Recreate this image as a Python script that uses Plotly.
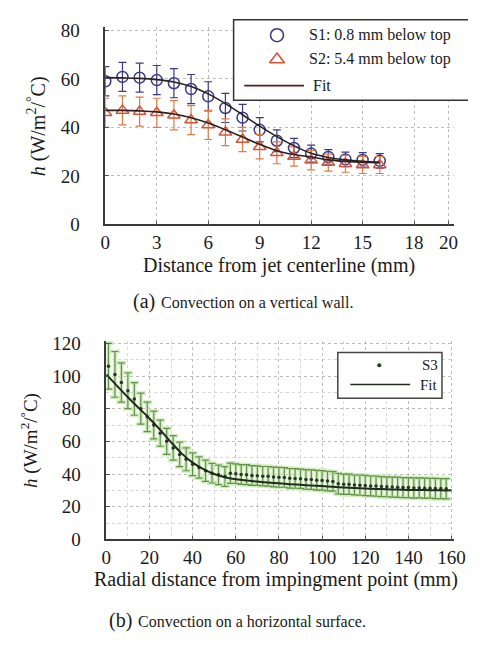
import plotly.graph_objects as go

# ---------------- (a) vertical wall ----------------
wall_x = [0, 1, 2, 3, 4, 5, 6, 7, 8, 9, 10, 11, 12, 13, 14, 15, 16]
s1_h = [59, 60.8, 60.5, 59.5, 58.2, 55.8, 52.8, 48, 44, 39, 34.5, 31.5, 29.2, 27.8, 26.8, 26.6, 26.2]
s1_err = [6, 6, 6, 6, 6, 6, 6, 6, 5.5, 5, 4.5, 4, 3.5, 3, 3, 3, 3]
s2_h = [46, 47, 46.5, 46, 45, 43, 41, 38, 35, 32, 29.5, 28, 26.5, 25.5, 25, 24.5, 24.5]
s2_err = [6, 6, 6, 6, 6, 6, 6, 5.5, 5, 5, 4.5, 4, 4, 3.5, 3.5, 3.5, 3.5]
fit1_h = [60.5, 60.4, 60.2, 59.7, 58.7, 56.8, 53.8, 49.8, 45.2, 40.5, 36.2, 32.4, 29.3, 27.6, 26.6, 26.0, 25.6]
fit2_h = [47, 47, 46.8, 46.4, 45.5, 44, 41.8, 39, 36, 33, 30.4, 28.8, 27.8, 26.6, 26.0, 25.6, 25.4]
wall_ticks = [0, 3, 6, 9, 12, 15, 18, 20]

# ---------------- (b) horizontal surface ----------------
s3_x1 = [1, 4, 7, 10, 13, 16, 19, 22, 25, 28, 31, 34, 37, 40, 43, 46, 49, 52, 55]
s3_h1 = [106, 101, 96, 91, 86, 80, 75, 70, 65, 60, 56, 52, 49, 46, 44, 42, 40.5, 39.5, 38.5]
s3_e1 = [14, 14, 12, 11, 10, 9.5, 9, 8.5, 8, 8, 7.5, 7.5, 7, 7, 6.5, 6.5, 6, 6, 6]
s3_x2 = [57.5, 60, 62.5, 65, 67.5, 70, 72.5, 75, 77.5, 80, 82.5, 85, 87.5, 90,
         92.5, 95, 97.5, 100, 102.5, 105, 107.5, 110, 112.5, 115, 117.5, 120,
         122.5, 125, 127.5, 130, 132.5, 135, 137.5, 140, 142.5, 145, 147.5, 150,
         152.5, 155, 157.5]
s3_h2 = [40.5, 40.2, 39.7, 39.6, 39.1, 39, 38.7, 38.6, 38.2, 38, 37.9, 37.4, 37.3, 37.1,
         36.7, 36.6, 36.2, 36.1, 35.7, 35.5, 34.1, 33.7, 33.7, 33.3, 33.2, 33.0,
         32.7, 32.6, 32.3, 32.2, 32.0, 31.9, 31.7, 31.7, 31.5, 31.5, 31.3, 31.3,
         31.1, 31.1, 31.0]
s3_e2 = [6.2, 6, 6, 6.1, 6, 6, 5.9, 6, 6, 6.1, 6, 6, 6, 5.9, 6, 6, 6.1, 6, 6, 6,
         6.3, 6.2, 6.2, 6.1, 6.2, 6.2, 6.1, 6.2, 6.1, 6.1, 6.1, 6.2, 6.1, 6.1,
         6.2, 6.1, 6.2, 6.1, 6.2, 6.1, 6.2]
fit3_x = [0, 5, 10, 15, 20, 25, 30, 35, 40, 45, 50, 55, 60, 65, 70, 75, 80, 85, 90,
          95, 100, 105, 110, 115, 120, 125, 130, 135, 140, 145, 150, 155, 160]
fit3_h = [101, 94, 87, 80.5, 74, 67, 59.5, 52.5, 47, 43, 40, 38, 36.8, 36, 35.4, 34.8,
          34.3, 33.8, 33.4, 33, 32.6, 32.2, 31.8, 31.5, 31.2, 30.9, 30.7, 30.5, 30.3,
          30.2, 30.1, 30, 30]
surf_ticks = [0, 20, 40, 60, 80, 100, 120, 140, 160]

W, H = 480, 645
SERIF = "Liberation Serif"
NAVY = "#3a3a86"
RED = "#d2553a"
ORANGE = "#e07a45"
DARK = "#2b1f1f"
GREEN = "#5f9448"
HALO = "#d3ecbf"


def px(x):
    return x / W


def py(y):
    return 1 - y / H


fig = go.Figure()

# wall data
fig.add_trace(go.Scatter(
    x=wall_x, y=s1_h, mode="markers", xaxis="x", yaxis="y",
    marker=dict(symbol="circle-open", size=11, color=NAVY, line=dict(width=1.5, color=NAVY)),
    error_y=dict(type="data", array=s1_err, color=NAVY, thickness=1.2, width=4),
    showlegend=False))
fig.add_trace(go.Scatter(
    x=wall_x, y=s2_h, mode="markers", xaxis="x", yaxis="y",
    marker=dict(symbol="triangle-up-open", size=11, color=RED, line=dict(width=1.5, color=RED)),
    error_y=dict(type="data", array=s2_err, color=ORANGE, thickness=1.2, width=4),
    showlegend=False))
for fit in (fit1_h, fit2_h):
    fig.add_trace(go.Scatter(
        x=wall_x, y=fit, mode="lines", xaxis="x", yaxis="y",
        line=dict(color=DARK, width=1.6, shape="spline"), showlegend=False))

# surface data: soft halo under the bars, then bars, markers and fit
for xs, hs, es in ((s3_x1, s3_h1, s3_e1), (s3_x2, s3_h2, s3_e2)):
    fig.add_trace(go.Scatter(
        x=xs, y=hs, mode="markers", xaxis="x2", yaxis="y2",
        marker=dict(size=1, color="rgba(0,0,0,0)"),
        error_y=dict(type="data", array=es, color=HALO, thickness=4, width=5),
        showlegend=False, hoverinfo="skip"))
    fig.add_trace(go.Scatter(
        x=xs, y=hs, mode="markers", xaxis="x2", yaxis="y2",
        marker=dict(symbol="circle", size=3.5, color="#253a22"),
        error_y=dict(type="data", array=es, color=GREEN, thickness=1.2, width=3.5),
        showlegend=False))
fig.add_trace(go.Scatter(
    x=fit3_x, y=fit3_h, mode="lines", xaxis="x2", yaxis="y2",
    line=dict(color="#1e2a1c", width=2, shape="spline"), showlegend=False))

# legend symbols drawn on a pixel-scaled overlay
fig.add_trace(go.Scatter(
    x=[282], y=[28], mode="markers", xaxis="x3", yaxis="y3",
    marker=dict(symbol="circle-open", size=13, color=NAVY, line=dict(width=1.6, color=NAVY)),
    showlegend=False, hoverinfo="skip"))
fig.add_trace(go.Scatter(
    x=[282], y=[53], mode="markers", xaxis="x3", yaxis="y3",
    marker=dict(symbol="triangle-up-open", size=13, color=RED, line=dict(width=1.6, color=RED)),
    showlegend=False, hoverinfo="skip"))
fig.add_trace(go.Scatter(
    x=[248, 310], y=[80, 80], mode="lines", xaxis="x3", yaxis="y3",
    line=dict(color="#5a1c1c", width=1.6), showlegend=False, hoverinfo="skip"))
fig.add_trace(go.Scatter(
    x=[388], y=[368], mode="markers", xaxis="x3", yaxis="y3",
    marker=dict(symbol="circle", size=4, color="#253a22"),
    showlegend=False, hoverinfo="skip"))
fig.add_trace(go.Scatter(
    x=[358, 420], y=[388, 388], mode="lines", xaxis="x3", yaxis="y3",
    line=dict(color="#1e2a1c", width=1.6), showlegend=False, hoverinfo="skip"))

axis_common = dict(
    showline=True, linecolor="#3a3a3a", linewidth=1.6, mirror=False,
    ticks="inside", ticklen=4, tickcolor="#555", zeroline=False,
    showgrid=True, gridcolor="#bdbdbd", griddash="dot", gridwidth=1,
    tickfont=dict(family=SERIF, size=19, color="#1a1a1a"),
)

fig.update_layout(
    width=W, height=H, margin=dict(l=0, r=0, t=0, b=0),
    paper_bgcolor="white", plot_bgcolor="rgba(0,0,0,0)",
    showlegend=False,
    font=dict(family=SERIF),
    xaxis=dict(axis_common, domain=[px(104), px(465)], range=[0, 20.3],
               tickvals=wall_ticks, anchor="y", ticklabelstandoff=0),
    yaxis=dict(axis_common, domain=[py(223), py(20)], range=[0, 81.2],
               tickvals=[0, 20, 40, 60, 80], anchor="x", ticklabelstandoff=20),
    xaxis2=dict(axis_common, domain=[px(105), px(465)], range=[0, 160.9],
                tickvals=surf_ticks, anchor="y2", ticklabelstandoff=0,
                minor=dict(showgrid=True, dtick=10, gridcolor="#d6d6d6", griddash="dot")),
    yaxis2=dict(axis_common, domain=[py(547.5), py(343)], range=[0, 121.5],
                tickvals=[0, 20, 40, 60, 80, 100, 120], anchor="x2", ticklabelstandoff=20,
                minor=dict(showgrid=True, dtick=10, gridcolor="#d6d6d6", griddash="dot")),
    xaxis3=dict(domain=[0, 1], range=[0, W], visible=False, anchor="y3", fixedrange=True),
    yaxis3=dict(domain=[0, 1], range=[H, 0], visible=False, anchor="x3", fixedrange=True),
)

# legend boxes
fig.add_shape(type="rect", xref="x3", yref="y3", x0=237, x1=484, y0=12, y1=95,
              line=dict(color="#333", width=1.5), fillcolor="white", layer="below")
fig.add_shape(type="rect", xref="x3", yref="y3", x0=345, x1=453, y0=355, y1=402,
              line=dict(color="#444", width=1.5), fillcolor="white", layer="below")


def note(text, x, y, size=20, angle=0, xanchor="center"):
    fig.add_annotation(text=text, x=px(x), y=py(y), xref="paper", yref="paper",
                       showarrow=False, textangle=angle, xanchor=xanchor, yanchor="middle",
                       font=dict(family=SERIF, size=size, color="#1a1a1a"))


note("S1: 0.8 mm below top", 313, 28, size=16, xanchor="left")
note("S2: 5.4 mm below top", 313, 53, size=16, xanchor="left")
note("Fit", 317, 80, size=16, xanchor="left")
note("S3", 451, 368, size=15, xanchor="right")
note("Fit", 451, 388, size=15, xanchor="right")

ytitle = "<i>h</i> (W/m<sup>2</sup>/<sup>°</sup>C)"
note(ytitle, 33, 122, angle=-90)
note(ytitle, 26, 446, size=19, angle=-90)
note("Distance from jet centerline (mm)", 284, 265)
note("Radial distance from impingment point (mm)", 281, 589)

# captions: larger panel letter, smaller description
note("(a)", 131, 302, size=20, xanchor="left")
note("Convection on a vertical wall.", 160, 303, size=16, xanchor="left")
note("(b)", 106, 631, size=20, xanchor="left")
note("Convection on a horizontal surface.", 136, 632, size=16, xanchor="left")

fig.write_html("out.html")
